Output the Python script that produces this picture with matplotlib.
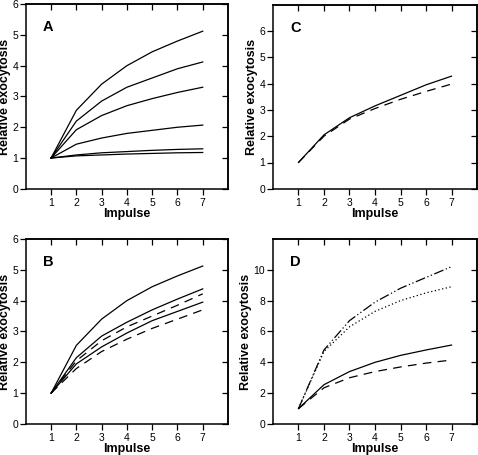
import matplotlib
matplotlib.use('Agg')
import matplotlib.pyplot as plt

plt.rcParams['font.family'] = ['Liberation Sans', 'DejaVu Sans']

impulse = [1, 2, 3, 4, 5, 6, 7]

# panel A: six solid curves
a_curves = [
    [1, 2.55, 3.4, 4.0, 4.45, 4.8, 5.12],
    [1, 2.2, 2.85, 3.3, 3.6, 3.9, 4.12],
    [1, 1.92, 2.38, 2.7, 2.93, 3.13, 3.3],
    [1, 1.45, 1.65, 1.8, 1.9, 2.0, 2.07],
    [1, 1.1, 1.17, 1.21, 1.25, 1.28, 1.3],
    [1, 1.07, 1.1, 1.13, 1.15, 1.17, 1.18],
]

# panel B
b_solid = [
    [1, 2.55, 3.4, 4.0, 4.45, 4.8, 5.12],
    [1, 2.15, 2.85, 3.3, 3.7, 4.05, 4.38],
    [1, 1.95, 2.5, 2.95, 3.35, 3.65, 3.95],
]
b_dashed = [
    [1, 2.05, 2.7, 3.15, 3.5, 3.85, 4.22],
    [1, 1.8, 2.35, 2.75, 3.1, 3.4, 3.7],
]

# panel C
c_solid = [1, 2.05, 2.7, 3.15, 3.55, 3.95, 4.28]
c_dashed = [1, 2.0, 2.65, 3.05, 3.4, 3.7, 3.98]

# panel D
d_solid = [1, 2.55, 3.4, 4.0, 4.45, 4.8, 5.12]
d_dashed = [1, 2.35, 3.0, 3.4, 3.7, 3.95, 4.15]
d_dashdot = [1, 4.8, 6.7, 7.9, 8.8, 9.5, 10.2]
d_dotted = [1, 4.7, 6.3, 7.3, 8.0, 8.5, 8.9]

fig = plt.figure(figsize=(4.78, 4.55), dpi=100)

ax_a = fig.add_axes([0.054, 0.585, 0.423, 0.406])
ax_c = fig.add_axes([0.571, 0.585, 0.427, 0.405])
ax_b = fig.add_axes([0.054, 0.068, 0.423, 0.407])
ax_d = fig.add_axes([0.571, 0.068, 0.427, 0.407])

lw = 0.9
dash = (0, (7, 5))

for y in a_curves:
    ax_a.plot(impulse, y, color='black', lw=lw)

for y in b_solid:
    ax_b.plot(impulse, y, color='black', lw=lw)
for y in b_dashed:
    ax_b.plot(impulse, y, color='black', lw=lw, linestyle=dash)

ax_c.plot(impulse, c_solid, color='black', lw=lw)
ax_c.plot(impulse, c_dashed, color='black', lw=lw, linestyle=dash)

ax_d.plot(impulse, d_solid, color='black', lw=lw)
ax_d.plot(impulse, d_dashed, color='black', lw=lw, linestyle=dash)
ax_d.plot(impulse, d_dashdot, color='black', lw=lw, linestyle=(0, (8, 2, 1, 2, 1, 2)))
ax_d.plot(impulse, d_dotted, color='black', lw=lw, linestyle=(0, (1, 2)))

settings = [
    (ax_a, 'A', 6, range(0, 7)),
    (ax_c, 'C', 7, range(0, 7)),
    (ax_b, 'B', 6, range(0, 7)),
    (ax_d, 'D', 12, range(0, 11, 2)),
]

for ax, letter, ytop, yt in settings:
    ax.set_xlim(0, 8)
    ax.set_ylim(0, ytop)
    ax.set_xticks(impulse)
    ax.set_yticks(list(yt))
    ax.tick_params(axis='x', labelsize=7.5, length=4, width=0.9, direction='out', pad=2.5)
    ax.tick_params(axis='y', labelsize=7.5, length=4, width=0.9, direction='out', pad=1.5)
    # inward ticks on top and right
    sec_x = ax.secondary_xaxis('top')
    sec_x.set_xticks(impulse)
    sec_x.tick_params(direction='in', length=4, width=0.9, labeltop=False)
    sec_x.set_xticklabels([])
    sec_y = ax.secondary_yaxis('right')
    sec_y.set_yticks(list(yt))
    sec_y.tick_params(direction='in', length=4, width=0.9)
    sec_y.set_yticklabels([])
    for sp in list(ax.spines.values()) + [sec_x.spines['top'], sec_y.spines['right']]:
        sp.set_linewidth(1.1)
    ax.set_xlabel('Impulse', fontsize=9, fontweight='bold', labelpad=0)
    ax.set_ylabel('Relative exocytosis', fontsize=9, fontweight='bold', labelpad=1)
    ax.text(0.085, 0.875, letter, transform=ax.transAxes, fontsize=10.5,
            fontweight='bold', va='center', ha='left')

fig.savefig('out.png', dpi=100)
